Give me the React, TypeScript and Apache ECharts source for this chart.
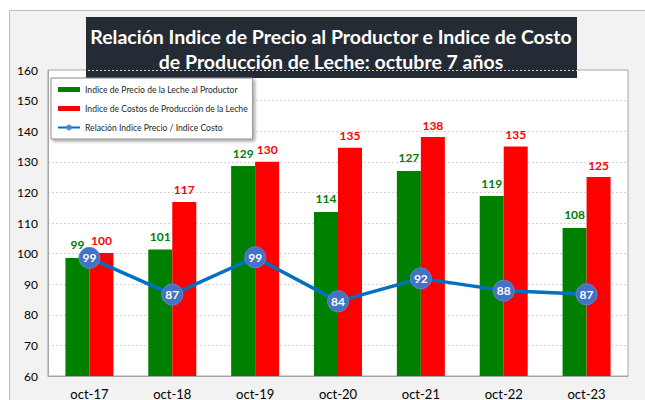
import React, { useEffect, useRef } from "react";
import * as echarts from "echarts";

const categories = ["oct-17", "oct-18", "oct-19", "oct-20", "oct-21", "oct-22", "oct-23"];
const precioLeche = [98.6, 101.3, 128.6, 113.6, 127.0, 118.8, 108.4];
const costoProduccion = [100.2, 116.9, 130.0, 134.6, 138.1, 135.0, 125.0];
const relacion = [98.6, 86.6, 98.8, 84.4, 91.9, 87.9, 86.7];
const titleLines = [
  "Relación Indice de Precio al Productor e Indice de Costo",
  "de Producción de Leche: octubre 7 años",
];
const legendNames = [
  "Indice de Precio de la Leche al Productor",
  "Indice de Costos de Producción de la Leche",
  "Relación Indice Precio / Indice Costo",
];

const FONT = "Lato, 'Open Sans', sans-serif";

export default function App() {
  const ref = useRef<HTMLDivElement>(null);
  useEffect(() => {
    if (!ref.current) return;
    const chart = echarts.init(ref.current, null, { renderer: "svg" });
    chart.setOption({
      animation: false,
      textStyle: { fontFamily: FONT },
      grid: {
        left: 48,
        right: 17,
        top: 70,
        bottom: 22,
        show: true,
        backgroundColor: "#ffffff",
        borderColor: "#a6a6a6",
        borderWidth: 1,
        containLabel: false,
      },
      legend: {
        orient: "vertical",
        left: 51,
        top: 78,
        padding: [7, 5, 7, 6],
        itemGap: 10,
        itemWidth: 22,
        itemHeight: 5,
        backgroundColor: "#ffffff",
        borderColor: "#8c8c8c",
        borderWidth: 1,
        shadowColor: "rgba(0,0,0,0.35)",
        shadowBlur: 3,
        shadowOffsetX: 2,
        shadowOffsetY: 2,
        textStyle: { fontSize: 8.6, color: "#262626", fontFamily: FONT },
        data: [
          { name: legendNames[0], icon: "rect" },
          { name: legendNames[1], icon: "rect" },
          { name: legendNames[2] },
        ],
      },
      xAxis: {
        type: "category",
        data: categories,
        axisLine: { lineStyle: { color: "#a6a6a6", width: 1 } },
        axisTick: { inside: true, length: 4, lineStyle: { color: "#a6a6a6" } },
        axisLabel: { fontSize: 13, color: "#000", margin: 11, fontFamily: FONT },
      },
      yAxis: {
        type: "value",
        min: 60,
        max: 160,
        interval: 10,
        axisLine: { show: true, lineStyle: { color: "#a6a6a6", width: 1 } },
        axisTick: { show: false },
        axisLabel: { fontSize: 12, color: "#000", margin: 10, fontFamily: FONT },
        splitLine: { lineStyle: { color: "#d4d4d4", type: [2, 2] } },
      },
      graphic: [
        {
          type: "group",
          z: 100,
          children: [
            {
              type: "rect",
              shape: { x: 86, y: 17, width: 491, height: 61 },
              style: { fill: "#252b35" },
            },
            {
              type: "text",
              x: 331,
              y: 36,
              style: {
                text: titleLines[0],
                fill: "#ffffff",
                font: `bold 19.5px ${FONT}`,
                textAlign: "center",
                textVerticalAlign: "middle",
              },
            },
            {
              type: "text",
              x: 331,
              y: 61,
              style: {
                text: titleLines[1],
                fill: "#ffffff",
                font: `bold 19.5px ${FONT}`,
                textAlign: "center",
                textVerticalAlign: "middle",
              },
            },
          ],
        },
      ],
      series: [
        {
          name: legendNames[0],
          type: "bar",
          data: precioLeche,
          barWidth: 24,
          barGap: "0%",
          itemStyle: { color: "#008000" },
          label: {
            show: true,
            position: "top",
            distance: 7,
            color: "#008000",
            fontWeight: "bold",
            fontSize: 12,
            fontFamily: FONT,
            formatter: (p: any) => String(Math.round(p.value)),
          },
        },
        {
          name: legendNames[1],
          type: "bar",
          data: costoProduccion,
          barWidth: 24,
          itemStyle: { color: "#ff0000" },
          label: {
            show: true,
            position: "top",
            distance: 6,
            color: "#ff0000",
            fontWeight: "bold",
            fontSize: 12,
            fontFamily: FONT,
            formatter: (p: any) => String(Math.round(p.value)),
          },
        },
        {
          name: legendNames[2],
          type: "line",
          data: relacion,
          z: 10,
          symbol: "circle",
          symbolSize: 21,
          lineStyle: { color: "#0070c0", width: 3.5 },
          itemStyle: { color: "#4472c4", borderColor: "#5b86d6", borderWidth: 1 },
          label: {
            show: true,
            position: "inside",
            color: "#ffffff",
            fontWeight: "bold",
            fontSize: 12,
            fontFamily: FONT,
            formatter: (p: any) => String(Math.round(p.value)),
          },
        },
      ],
    });
    return () => chart.dispose();
  }, []);

  return (
    <div style={{ position: "fixed", left: 0, top: 0, width: 645, height: 400, background: "#ffffff", overflow: "hidden" }}>
      <div
        style={{
          position: "absolute",
          left: 9,
          top: 10,
          width: 700,
          height: 500,
          background: "#f2f2f2",
          borderLeft: "1px solid #bfbfbf",
          borderTop: "1px solid #bfbfbf",
        }}
      />
      <div ref={ref} style={{ position: "absolute", left: 0, top: 0, width: 645, height: 400 }} />
    </div>
  );
}
